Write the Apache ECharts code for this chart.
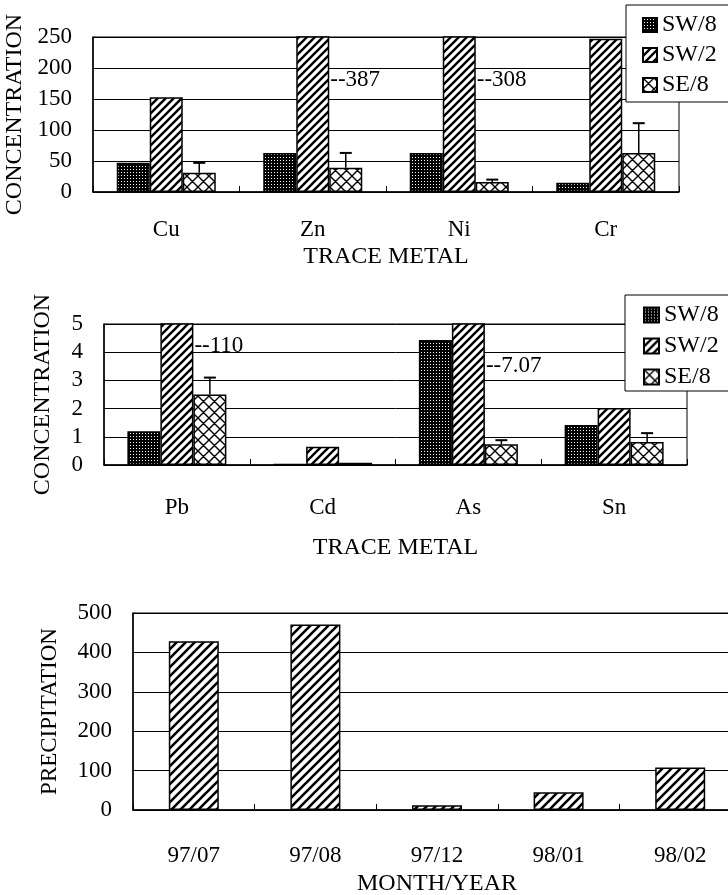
<!DOCTYPE html>
<html>
<head>
<meta charset="utf-8">
<script src="https://cdn.jsdelivr.net/npm/echarts@6/dist/echarts.min.js"></script>
<style>
html,body{margin:0;padding:0;background:#fff;overflow:hidden;}
#chart{width:728px;height:895px;}
</style>
</head>
<body>
<div id="chart"></div>
<script>
// ---------- DATA ----------
const seriesNames = ['SW/8', 'SW/2', 'SE/8'];

const metals1 = ['Cu', 'Zn', 'Ni', 'Cr'];
const sw8Top = [47, 63, 63, 15];
const sw2Top = [153, 387, 308, 247];
const se8Top = [31, 39, 16, 63];
const se8ErrTop = [47, 63, 20, 111];
const yTicksTop = [0, 50, 100, 150, 200, 250];
const annotCatsTop = ['Zn', 'Ni'];
const annotYTop = [181, 181];
const annotTextTop = ['--387', '--308'];

const metals2 = ['Pb', 'Cd', 'As', 'Sn'];
const sw8Mid = [1.2, 0.03, 4.43, 1.42];
const sw2Mid = [110, 0.65, 7.07, 2.02];
const se8Mid = [2.5, 0.08, 0.74, 0.82];
const se8ErrMid = [3.1, null, 0.88, 1.13];
const yTicksMid = [0, 1, 2, 3, 4, 5];
const annotCatsMid = ['Pb', 'As'];
const annotYMid = [4.22, 3.51];
const annotTextMid = ['--110', '--7.07'];

const months = ['97/07', '97/08', '97/12', '98/01', '98/02'];
const precip = [428, 471, 12, 45, 108];
const yTicksBot = [0, 100, 200, 300, 400, 500];

// ---------- PATTERNS ----------
function dotPattern() {
  const c = document.createElement('canvas');
  c.width = 3; c.height = 3;
  const g = c.getContext('2d');
  g.fillStyle = '#000'; g.fillRect(0, 0, 3, 3);
  g.fillStyle = '#fff';
  g.fillRect(1, 1, 1, 1);
  return c;
}
function hatchPattern(size, lw) {
  const c = document.createElement('canvas');
  c.width = size; c.height = size;
  const g = c.getContext('2d');
  g.fillStyle = '#fff'; g.fillRect(0, 0, size, size);
  g.strokeStyle = '#000'; g.lineWidth = lw;
  g.beginPath();
  for (let k = -1; k <= 1; k++) {
    g.moveTo(k * size - 1, size + 1);
    g.lineTo(k * size + size + 1, -1);
  }
  g.stroke();
  return c;
}
function crossPattern(size, lw) {
  const c = document.createElement('canvas');
  c.width = size; c.height = size;
  const g = c.getContext('2d');
  g.fillStyle = '#fff'; g.fillRect(0, 0, size, size);
  g.strokeStyle = '#000'; g.lineWidth = lw;
  g.beginPath();
  for (let k = -1; k <= 1; k++) {
    g.moveTo(k * size - 1, size + 1);
    g.lineTo(k * size + size + 1, -1);
    g.moveTo(k * size - 1, -1);
    g.lineTo(k * size + size + 1, size + 1);
  }
  g.stroke();
  return c;
}
const fillSW8 = { image: dotPattern(), repeat: 'repeat' };
const fillSW2 = { image: hatchPattern(8, 2.4), repeat: 'repeat' };
const fillSE8 = { image: crossPattern(11, 1.4), repeat: 'repeat' };
const fillPrec = { image: hatchPattern(9, 2.6), repeat: 'repeat' };
const fills = [fillSW8, fillSW2, fillSE8];

// ---------- STYLE ----------
const FONT = '"Liberation Serif", "DejaVu Serif", serif';
const BLACK = '#000';
const BAR_W = 33;

function catAxis(gi, data, margin, name, nameGap) {
  return {
    gridIndex: gi, type: 'category', data: data,
    axisLine: { show: true, lineStyle: { color: BLACK, width: 1.5 } },
    axisTick: { show: true, inside: true, length: 6, lineStyle: { color: BLACK } },
    axisLabel: { color: BLACK, fontSize: 23, fontFamily: FONT, margin: margin },
    name: name, nameLocation: 'middle', nameGap: nameGap,
    nameTextStyle: { color: BLACK, fontSize: 24, fontFamily: FONT }
  };
}
function valAxis(gi, ticks, name, nameGap, nameSize) {
  return {
    gridIndex: gi, type: 'value',
    min: ticks[0], max: ticks[ticks.length - 1], interval: ticks[1] - ticks[0],
    axisLine: { show: true, lineStyle: { color: BLACK, width: 1.5 } },
    axisTick: { show: false },
    splitLine: { show: true, lineStyle: { color: BLACK, width: 1 } },
    axisLabel: { color: BLACK, fontSize: 23, fontFamily: FONT, margin: 21 },
    name: name, nameLocation: 'middle', nameRotate: 90, nameGap: nameGap,
    nameTextStyle: { color: BLACK, fontSize: nameSize, fontFamily: FONT }
  };
}
function markLabels(cats, ys, texts) {
  return {
    silent: true,
    symbol: 'rect', symbolSize: 0,
    label: { show: true, position: 'right', distance: BAR_W / 2 + 1,
      color: BLACK, fontSize: 23, fontFamily: FONT,
      formatter: p => p.name },
    data: cats.map((c, i) => ({ name: texts[i], coord: [c, ys[i]] }))
  };
}
function barSeries(name, idx, gi, data, mark) {
  const s = {
    name: name, type: 'bar', xAxisIndex: gi, yAxisIndex: gi,
    data: data, barWidth: BAR_W, barGap: '0%', clip: true,
    itemStyle: { color: fills[idx], borderColor: BLACK, borderWidth: 1.5 },
    emphasis: { disabled: true }, animation: false
  };
  if (mark) s.markPoint = mark;
  return s;
}
function errSeries(gi, bases, tops) {
  const d = [];
  bases.forEach((b, i) => { if (tops[i] != null) d.push([i, b, tops[i]]); });
  return {
    type: 'custom', xAxisIndex: gi, yAxisIndex: gi, data: d, z: 5,
    silent: true, animation: false,
    renderItem: function (params, api) {
      const p1 = api.coord([api.value(0), api.value(1)]);
      const p2 = api.coord([api.value(0), api.value(2)]);
      const x = p1[0] + BAR_W;
      return {
        type: 'group', children: [
          { type: 'line', shape: { x1: x, y1: p1[1], x2: x, y2: p2[1] },
            style: { stroke: BLACK, lineWidth: 1.5 } },
          { type: 'line', shape: { x1: x - 6, y1: p2[1], x2: x + 6, y2: p2[1] },
            style: { stroke: BLACK, lineWidth: 2 } }
        ]
      };
    }
  };
}
function legend(left, top, iconSize, gap, padding) {
  return {
    data: seriesNames, orient: 'vertical', left: left, top: top,
    itemWidth: iconSize, itemHeight: iconSize, itemGap: gap, icon: 'rect',
    padding: padding, borderColor: BLACK, borderWidth: 1, backgroundColor: '#fff',
    textStyle: { color: BLACK, fontSize: 24, fontFamily: FONT },
    selectedMode: false, z: 10
  };
}
function grid(left, width, top, height) {
  return { left: left, width: width, top: top, height: height,
    show: true, borderColor: BLACK, borderWidth: 1,
    outerBoundsMode: 'none', containLabel: false };
}

const option = {
  backgroundColor: '#fff',
  animation: false,
  grid: [
    grid(93, 586, 37, 155),
    grid(104, 583, 324, 141),
    grid(133, 608, 613, 197)
  ],
  legend: [
    legend(626, 5, 14, 6, [8, 12, 5, 16]),
    legend(625, 295, 15, 7, [8, 12, 2, 18])
  ],
  xAxis: [
    catAxis(0, metals1, 26, 'TRACE METAL', 53),
    catAxis(1, metals2, 31, 'TRACE METAL', 71),
    catAxis(2, months, 34, 'MONTH/YEAR', 62)
  ],
  yAxis: [
    valAxis(0, yTicksTop, 'CONCENTRATION', 66, 24),
    valAxis(1, yTicksMid, 'CONCENTRATION', 49, 24),
    valAxis(2, yTicksBot, 'PRECIPITATION', 72, 23)
  ],
  series: [
    barSeries('SW/8', 0, 0, sw8Top),
    barSeries('SW/2', 1, 0, sw2Top, markLabels(annotCatsTop, annotYTop, annotTextTop)),
    barSeries('SE/8', 2, 0, se8Top),
    errSeries(0, se8Top, se8ErrTop),
    barSeries('SW/8', 0, 1, sw8Mid),
    barSeries('SW/2', 1, 1, sw2Mid, markLabels(annotCatsMid, annotYMid, annotTextMid)),
    barSeries('SE/8', 2, 1, se8Mid),
    errSeries(1, se8Mid, se8ErrMid),
    {
      name: 'PRECIPITATION', type: 'bar', xAxisIndex: 2, yAxisIndex: 2,
      data: precip, barWidth: 50,
      itemStyle: { color: fillPrec, borderColor: BLACK, borderWidth: 1.5 },
      emphasis: { disabled: true }
    }
  ]
};

const chart = echarts.init(document.getElementById('chart'), null, { renderer: 'canvas' });
chart.setOption(option);
</script>
</body>
</html>
